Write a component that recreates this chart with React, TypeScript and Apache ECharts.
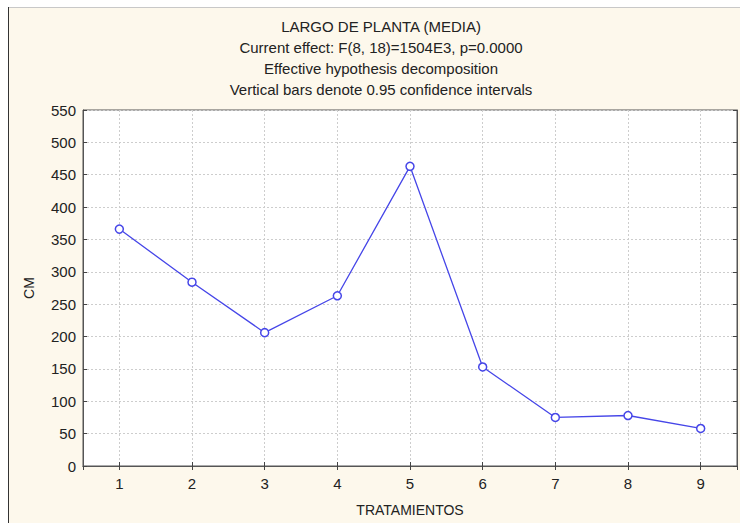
import React, { useEffect, useRef } from "react";
import * as echarts from "echarts";

const categories = ["1", "2", "3", "4", "5", "6", "7", "8", "9"];
const means = [366, 284, 206, 263, 463, 153, 75, 78, 58];
const titleLines = [
  "LARGO DE PLANTA (MEDIA)",
  "Current effect: F(8, 18)=1504E3, p=0.0000",
  "Effective hypothesis decomposition",
  "Vertical bars denote 0.95 confidence intervals",
];
const yTicks = { min: 0, max: 550, interval: 50 };
const xName = "TRATAMIENTOS";
const yName = "CM";

const FONT = "'Liberation Sans', Arial, sans-serif";
const LINE = "#4646e8";

export default function App() {
  const ref = useRef<HTMLDivElement>(null);
  useEffect(() => {
    if (!ref.current) return;
    const chart = echarts.init(ref.current, null, { renderer: "svg" });
    const data = categories.map((c, i) => [Number(c), means[i]]);
    const gridLine = { show: true, lineStyle: { color: "#cdcdcd", type: [2, 2], width: 1 } };
    const hiddenLabel = { show: false };
    chart.setOption({
      animation: false,
      backgroundColor: "#FDF8EC",
      textStyle: { fontFamily: FONT },
      grid: {
        left: 83,
        top: 110,
        right: 3,
        bottom: 57,
        show: true,
        backgroundColor: "#ffffff",
        borderColor: "#555555",
        borderWidth: 1,
        containLabel: false,
      },
      xAxis: [
        {
          type: "value",
          min: 0.5,
          max: 9.5,
          minInterval: 1,
          maxInterval: 1,
          name: xName,
          nameLocation: "middle",
          nameGap: 37,
          nameTextStyle: { color: "#222", fontSize: 14, fontFamily: FONT },
          axisLine: { show: true, lineStyle: { color: "#555", width: 1 } },
          axisTick: { show: true, inside: true, length: 4, lineStyle: { color: "#444" } },
          axisLabel: {
            color: "#222",
            fontSize: 15,
            margin: 10,
            showMinLabel: false,
            showMaxLabel: false,
            formatter: (v: number) => (Number.isInteger(v) ? String(v) : ""),
          },
          splitLine: gridLine,
        },
        {
          type: "value",
          position: "top",
          min: 0.5,
          max: 9.5,
          minInterval: 1,
          maxInterval: 1,
          axisLine: { show: true, lineStyle: { color: "#555", width: 1 } },
          axisTick: { show: true, inside: true, length: 4, lineStyle: { color: "#444" } },
          axisLabel: hiddenLabel,
          splitLine: { show: false },
        },
      ],
      yAxis: [
        {
          type: "value",
          min: yTicks.min,
          max: yTicks.max,
          interval: yTicks.interval,
          name: yName,
          nameLocation: "middle",
          nameGap: 47,
          nameRotate: 90,
          nameTextStyle: { color: "#222", fontSize: 14, fontFamily: FONT },
          axisLine: { show: true, lineStyle: { color: "#555", width: 1 } },
          axisTick: { show: true, inside: true, length: 4, lineStyle: { color: "#444" } },
          axisLabel: { color: "#222", fontSize: 15, margin: 7 },
          splitLine: gridLine,
        },
        {
          type: "value",
          position: "right",
          min: yTicks.min,
          max: yTicks.max,
          interval: yTicks.interval,
          axisLine: { show: true, lineStyle: { color: "#555", width: 1 } },
          axisTick: { show: true, inside: true, length: 4, lineStyle: { color: "#444" } },
          axisLabel: hiddenLabel,
          splitLine: { show: false },
        },
      ],
      series: [
        {
          type: "line",
          data,
          symbol: "circle",
          symbolSize: 8,
          lineStyle: { color: LINE, width: 1.3 },
          itemStyle: { color: "#ffffff", borderColor: LINE, borderWidth: 1.5 },
          z: 5,
        },
      ],
      graphic: [
        { type: "rect", shape: { x: 0, y: 0, width: 740, height: 7 }, style: { fill: "#ffffff" }, silent: true },
        { type: "rect", shape: { x: 0, y: 0, width: 8, height: 523 }, style: { fill: "#ffffff" }, silent: true },
        { type: "line", shape: { x1: 8, y1: 7.5, x2: 740, y2: 7.5 }, style: { stroke: "#c8c8c8", lineWidth: 1 }, silent: true },
        { type: "line", shape: { x1: 8.5, y1: 7, x2: 8.5, y2: 523 }, style: { stroke: "#333333", lineWidth: 1 }, silent: true },
        ...titleLines.map((t, i) => ({
          type: "text",
          x: 381,
          y: 26 + i * 21.3,
          silent: true,
          style: {
            text: t,
            fill: "#222",
            font: `15px ${FONT}`,
            textAlign: "center",
            textVerticalAlign: "middle",
          },
        })),
      ],
    });
    return () => chart.dispose();
  }, []);
  return (
    <div
      ref={ref}
      style={{ position: "absolute", left: 0, top: 0, width: 740, height: 523 }}
    />
  );
}
